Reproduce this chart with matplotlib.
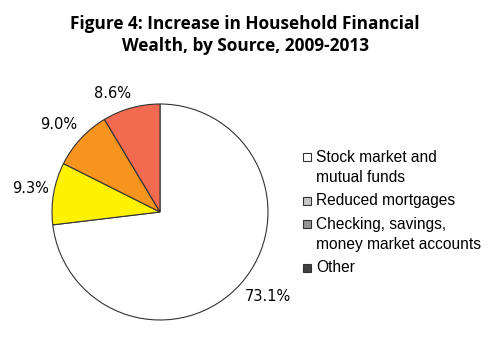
import matplotlib.pyplot as plt
from matplotlib.patches import Rectangle

# household financial wealth increase by source, 2009-2013
sources = ['Stock market and\nmutual funds', 'Reduced mortgages',
           'Checking, savings,\nmoney market accounts', 'Other']
shares = [73.1, 9.3, 9.0, 8.6]
pie_colors = ['#ffffff', '#fff200', '#f7941d', '#f26a4f']
legend_colors = ['#ffffff', '#c8c8c8', '#969696', '#404040']

# where each percentage label sits, in pie radius units
label_pos = [(1.0, -0.78), (-1.20, 0.22), (-0.94, 0.81), (-0.44, 1.10)]

W, H = 500, 338
fig = plt.figure(figsize=(W / 100, H / 100), dpi=100)
ax = fig.add_axes([0.104, 0.0533, 0.432, 0.639])

wedges, texts = ax.pie(shares, colors=pie_colors, startangle=90, counterclock=False,
                       labels=['%.1f%%' % s for s in shares],
                       wedgeprops=dict(edgecolor='#333333', linewidth=0.8))
for t, (x, y) in zip(texts, label_pos):
    t.set_position((x, y))
    t.set_ha('center')
    t.set_va('center')
    t.set_fontsize(10.5)
    t.set_family('DejaVu Sans')
ax.set_xlim(-1, 1)
ax.set_ylim(-1, 1)
ax.set_aspect('equal')

fig.text(0.49, 0.896, 'Figure 4: Increase in Household Financial\nWealth, by Source, 2009-2013',
         ha='center', va='center', fontsize=12.4, fontweight='bold', family='Open Sans',
         linespacing=1.3)

# legend drawn by hand so the box lines up with the first line of each entry
line_step, entry_gap = 21, 2
y = 157
for label, c in zip(sources, legend_colors):
    fig.add_artist(Rectangle(((303) / W, 1 - (y + 4) / H), 8 / W, 8 / H,
                             transform=fig.transFigure, facecolor=c,
                             edgecolor='#333333', linewidth=0.8))
    for line in label.split('\n'):
        fig.text(316 / W, 1 - y / H, line, ha='left', va='center',
                 family='Liberation Sans', fontsize=11.2)
        y += line_step
    y += entry_gap

fig.savefig('out.png', dpi=100)
